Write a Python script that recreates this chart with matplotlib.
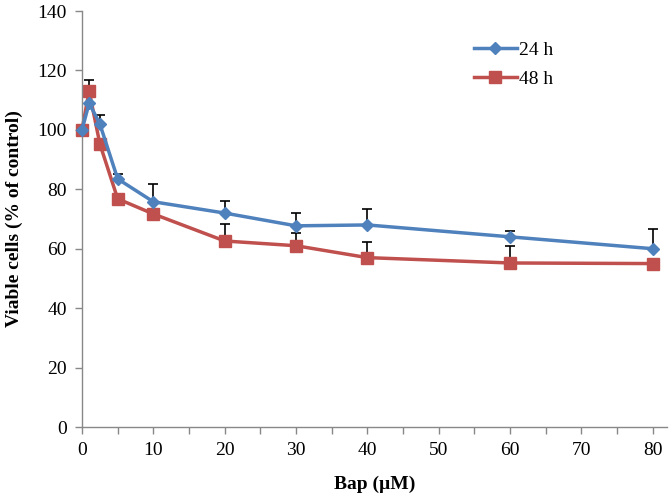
import numpy as np
from matplotlib import pyplot as plt

plt.rcParams['font.family'] = ['Liberation Serif', 'DejaVu Serif']

# Bap concentration (uM)
dose = [0, 1, 2.5, 5, 10, 20, 30, 40, 60, 80]

# viable cells, % of control
v24 = [100, 109, 102, 83.5, 75.8, 72, 67.7, 68, 64, 60]
v48 = [100, 113.1, 95.3, 76.8, 71.7, 62.6, 61, 57, 55.2, 55]

# upper error bars (SD)
e24 = [0, 0, 3, 1.7, 6, 4, 4.3, 5.4, 2, 6.7]
e48 = [0, 3.7, 0, 0, 0, 5.7, 4.3, 5.3, 5.8, 0]

blue = '#4F81BD'
red = '#C0504D'

fig = plt.figure(figsize=(6.72, 4.98), dpi=100)
ax = fig.add_axes([82/672, 1 - 427/498, (667-82)/672, (427-11)/498])

# error bars first (only upper part)
ax.errorbar(dose, v24, yerr=[np.zeros(len(e24)), e24], fmt='none',
            ecolor='black', elinewidth=1.2, capsize=3.5, capthick=1.2, zorder=1)
ax.errorbar(dose, v48, yerr=[np.zeros(len(e48)), e48], fmt='none',
            ecolor='black', elinewidth=1.2, capsize=3.5, capthick=1.2, zorder=1)

ax.plot(dose, v24, color=blue, lw=2.5, marker='D', ms=6,
        mfc=blue, mec=blue, label='24 h', zorder=3, clip_on=False)
ax.plot(dose, v48, color=red, lw=2.5, marker='s', ms=8,
        mfc=red, mec=red, label='48 h', zorder=2, clip_on=False)

ax.set_xlim(0, 82)
ax.set_ylim(0, 140)
ax.set_xticks(range(0, 81, 10))
ax.set_xticks(range(5, 81, 10), minor=True)
ax.set_yticks(range(0, 141, 20))

for s in ['top', 'right']:
    ax.spines[s].set_visible(False)
for s in ['left', 'bottom']:
    ax.spines[s].set_color('#888888')
    ax.spines[s].set_linewidth(1)
ax.tick_params(which='both', direction='out', color='#888888', length=5,
               labelsize=14, width=1)
ax.tick_params(axis='x', pad=6)
ax.tick_params(axis='y', pad=6)

ax.set_xlabel('Bap (\u00b5M)', fontsize=14, fontweight='bold', labelpad=12)
ax.set_ylabel('Viable cells (% of control)', fontsize=14, fontweight='bold', labelpad=10)

ax.legend(loc='upper left', bbox_to_anchor=(0.64, 0.97), frameon=False,
          fontsize=14, handlelength=2.2, handletextpad=0.1, labelspacing=0.6)

fig.savefig('out.png', dpi=100)
